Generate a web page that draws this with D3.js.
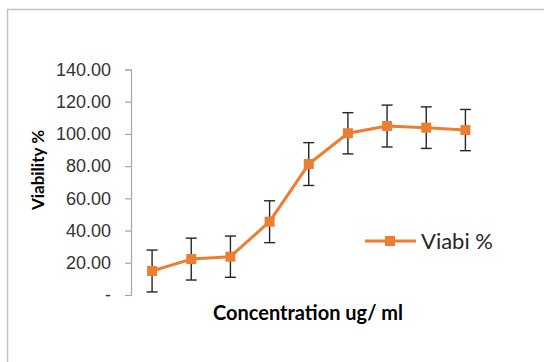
<!DOCTYPE html>
<html>
<head>
<meta charset="utf-8">
<script src="https://cdn.jsdelivr.net/npm/d3@7"></script>
<style>
  body { margin: 0; background: #fff; }
  svg { display: block; font-family: Lato, "Open Sans", sans-serif; }
</style>
</head>
<body>
<div id="chart"></div>
<script>
// viability (%) per concentration step, with error bars
const categories = ["c1", "c2", "c3", "c4", "c5", "c6", "c7", "c8", "c9"];
const viability = [14.9, 22.3, 23.8, 45.5, 81.3, 100.4, 104.9, 103.9, 102.4];
const errors = [13.0, 13.0, 12.8, 13.0, 13.3, 12.8, 13.0, 12.9, 12.8];
const yTicks = [0, 20, 40, 60, 80, 100, 120, 140];
const seriesName = "Viabi %";

const width = 544, height = 362;
const orange = "#ed7d31";

const data = categories.map((c, i) => ({ cat: c, v: viability[i], e: errors[i] }));

const svg = d3.select("#chart")
  .append("svg")
  .attr("width", width)
  .attr("height", height);

// chart frame (runs off the right and bottom edge)
svg.append("rect")
  .attr("x", 7.5).attr("y", 9.5)
  .attr("width", 700).attr("height", 500)
  .attr("fill", "#fff")
  .attr("stroke", "#c4c4c4")
  .attr("stroke-width", 1.5);

const x = d3.scalePoint()
  .domain(categories)
  .range([132.5, 485])
  .padding(0.5);

const y = d3.scaleLinear()
  .domain([0, 140])
  .range([295, 69.5]);

// y axis
const yAxis = svg.append("g")
  .attr("transform", "translate(131,0)")
  .call(d3.axisLeft(y)
    .tickValues(yTicks)
    .tickSize(6)
    .tickPadding(14)
    .tickFormat(d => d === 0 ? "-" : d3.format(".2f")(d)));
yAxis.select(".domain").attr("stroke", "#a6a6a6").attr("stroke-width", 1.2);
yAxis.selectAll(".tick line").attr("stroke", "#a6a6a6").attr("stroke-width", 1.2);
yAxis.selectAll(".tick text")
  .attr("fill", "#333")
  .style("font-size", "18px");

// axis titles
svg.append("text")
  .attr("transform", "translate(44,170) rotate(-90)")
  .attr("text-anchor", "middle")
  .attr("fill", "#000")
  .style("font-size", "17px")
  .style("font-weight", "bold")
  .text("Viability %");

svg.append("text")
  .attr("x", 308).attr("y", 320)
  .attr("text-anchor", "middle")
  .attr("fill", "#000")
  .style("font-size", "20px")
  .style("font-weight", "bold")
  .text("Concentration ug/ ml");

// error bars
const eb = svg.append("g").attr("stroke", "#262626").attr("stroke-width", 1.4);
eb.selectAll(".stem").data(data).enter().append("line")
  .attr("x1", d => x(d.cat)).attr("x2", d => x(d.cat))
  .attr("y1", d => y(d.v + d.e)).attr("y2", d => y(d.v - d.e));
eb.selectAll(".capTop").data(data).enter().append("line")
  .attr("x1", d => x(d.cat) - 5.5).attr("x2", d => x(d.cat) + 5.5)
  .attr("y1", d => y(d.v + d.e)).attr("y2", d => y(d.v + d.e));
eb.selectAll(".capBot").data(data).enter().append("line")
  .attr("x1", d => x(d.cat) - 5.5).attr("x2", d => x(d.cat) + 5.5)
  .attr("y1", d => y(d.v - d.e)).attr("y2", d => y(d.v - d.e));

// series line
const line = d3.line()
  .x(d => x(d.cat))
  .y(d => y(d.v));

svg.append("path")
  .datum(data)
  .attr("d", line)
  .attr("fill", "none")
  .attr("stroke", orange)
  .attr("stroke-width", 3)
  .attr("stroke-linejoin", "round");

// square markers
const ms = 10;
svg.selectAll(".marker").data(data).enter().append("rect")
  .attr("x", d => x(d.cat) - ms / 2)
  .attr("y", d => y(d.v) - ms / 2)
  .attr("width", ms).attr("height", ms)
  .attr("fill", orange);

// legend
const lg = svg.append("g").attr("transform", "translate(365,241)");
lg.append("line")
  .attr("x1", 0).attr("x2", 51)
  .attr("stroke", orange).attr("stroke-width", 3);
lg.append("rect")
  .attr("x", 25 - ms / 2).attr("y", -ms / 2)
  .attr("width", ms).attr("height", ms)
  .attr("fill", orange);
lg.append("text")
  .attr("x", 56).attr("y", 7.5)
  .attr("fill", "#262626")
  .style("font-size", "22px")
  .text(seriesName);
</script>
</body>
</html>
